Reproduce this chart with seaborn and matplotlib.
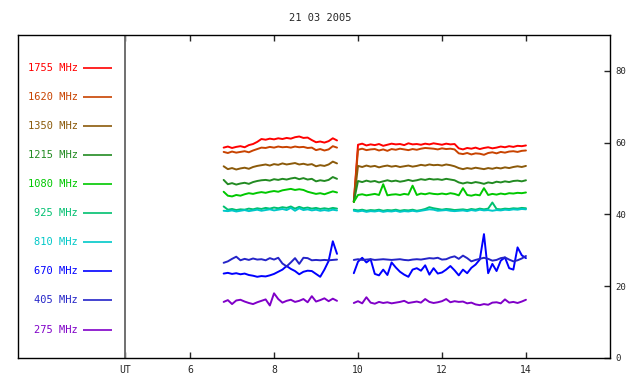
import numpy as np
import pandas as pd
import seaborn as sns
import matplotlib
matplotlib.use("Agg")
import matplotlib.pyplot as plt

# sampling grid (UT hours) of the two observation runs
hours1 = np.round(np.arange(6.8, 9.55, 0.1), 2)
hours2 = np.round(np.arange(9.9, 14.05, 0.1), 2)

bands = ["1755", "1620", "1350", "1215", "1080", "925", "810", "670", "405", "275"]
colors = ["#ff0000", "#c84300", "#8b5a0a", "#228b22", "#00c800",
          "#00c070", "#00c8c8", "#0000ff", "#2424c8", "#8000c8"]

# flux readings, first run
f1755_a = [58.6, 58.9, 58.5, 58.8, 59.0, 58.7, 59.3, 59.6, 60.2, 61.0, 60.8, 61.1, 60.9, 61.2, 61.0, 61.3, 61.1, 61.5, 61.7, 61.3, 61.4, 60.7, 60.1, 60.3, 60.0, 60.4, 61.2, 60.6]
f1620_a = [57.4, 57.1, 57.5, 57.2, 57.4, 57.6, 57.3, 57.8, 58.2, 58.6, 58.5, 58.8, 58.6, 58.9, 58.7, 58.8, 58.6, 58.9, 58.7, 58.8, 58.5, 58.6, 57.9, 58.2, 57.8, 58.1, 59.0, 58.6]
f1350_a = [53.4, 52.6, 52.9, 52.5, 52.8, 53.0, 52.7, 53.2, 53.5, 53.7, 53.9, 53.6, 54.0, 53.8, 54.2, 53.9, 54.1, 54.3, 53.9, 54.1, 53.8, 54.0, 53.4, 53.7, 53.5, 53.9, 54.7, 54.2]
f1215_a = [49.6, 48.4, 48.7, 48.3, 48.6, 48.8, 48.5, 49.0, 49.3, 49.5, 49.6, 49.4, 49.8, 49.6, 49.9, 49.7, 50.0, 50.2, 49.8, 50.1, 49.7, 49.9, 49.2, 49.5, 49.3, 49.6, 50.4, 49.9]
f1080_a = [46.3, 45.2, 45.0, 45.4, 45.2, 45.6, 45.9, 45.7, 46.0, 46.2, 46.0, 46.3, 46.5, 46.3, 46.7, 46.9, 47.1, 46.8, 47.0, 46.8, 46.3, 46.0, 45.7, 45.9, 45.6, 46.0, 46.4, 46.1]
f925_a = [42.2, 41.3, 41.5, 41.2, 41.4, 41.3, 41.6, 41.4, 41.7, 41.5, 41.8, 41.6, 41.9, 41.7, 42.0, 41.8, 42.2, 41.6, 42.1, 41.7, 41.9, 41.6, 41.8, 41.5, 41.7, 41.5, 41.8, 41.6]
f810_a = [41.0, 40.9, 41.1, 40.8, 41.0, 41.2, 40.9, 41.1, 41.3, 41.0, 41.2, 41.4, 41.1, 41.3, 41.5, 41.2, 41.8, 41.0, 41.7, 41.2, 41.4, 41.1, 41.3, 41.0, 41.2, 41.0, 41.3, 41.1]
f670_a = [23.5, 23.7, 23.4, 23.6, 23.3, 23.5, 23.1, 22.9, 22.6, 22.8, 22.7, 23.0, 23.4, 24.0, 24.6, 25.6, 24.8, 24.2, 23.3, 24.0, 24.3, 24.2, 23.4, 22.6, 24.6, 27.0, 32.5, 29.0]
f405_a = [26.5, 26.9, 27.6, 28.2, 27.2, 27.6, 27.3, 27.7, 27.4, 27.5, 27.2, 27.8, 27.4, 27.9, 26.3, 25.5, 26.6, 27.8, 26.2, 27.9, 27.8, 27.2, 27.3, 27.2, 27.3, 27.2, 27.3, 27.4]
f275_a = [15.6, 16.1, 15.0, 16.0, 16.2, 15.7, 15.3, 15.0, 15.5, 15.9, 16.3, 14.6, 18.0, 16.4, 15.4, 15.9, 16.2, 15.6, 15.9, 16.4, 15.5, 17.2, 15.7, 16.1, 16.6, 15.8, 16.5, 15.9]

# flux readings, second run
f1755_b = [43.5, 59.4, 59.7, 59.2, 59.5, 59.3, 59.6, 59.1, 59.4, 59.7, 59.5, 59.6, 59.3, 59.8, 59.5, 59.6, 59.4, 59.7, 59.5, 59.8, 59.6, 59.4, 59.7, 59.5, 59.6, 58.4, 58.1, 58.5, 58.3, 58.6, 58.2, 58.5, 58.7, 58.4, 58.6, 58.9, 58.7, 59.0, 58.8, 59.1, 59.0, 59.2]
f1620_b = [43.5, 58.0, 58.3, 57.9, 58.1, 58.2, 57.8, 58.1, 57.7, 58.2, 58.0, 58.3, 58.1, 57.9, 58.2, 58.0, 58.3, 58.5, 58.4, 58.3, 58.1, 58.4, 58.2, 58.3, 58.1, 57.0, 56.8, 57.1, 56.7, 57.0, 56.9, 56.6, 57.1, 57.3, 57.0, 57.4, 57.2, 57.5, 57.6, 57.4, 57.7, 57.8]
f1350_b = [43.5, 53.5, 53.2, 53.6, 53.3, 53.5, 53.1, 53.4, 53.6, 53.3, 53.5, 53.2, 53.4, 53.6, 53.3, 53.5, 53.8, 53.6, 53.9, 53.7, 53.8, 53.6, 53.9, 53.7, 53.4, 52.9, 52.6, 52.9, 52.7, 53.0, 52.8, 52.6, 52.9, 52.7, 53.0, 52.8, 53.1, 52.9, 53.2, 53.4, 53.2, 53.5]
f1215_b = [43.5, 49.3, 49.0, 49.4, 49.1, 49.3, 48.9, 49.2, 49.5, 49.2, 49.4, 49.1, 49.3, 49.6, 49.3, 49.5, 49.8, 49.6, 49.9, 49.7, 49.8, 49.6, 49.9, 49.7, 49.5, 48.9, 48.6, 48.9, 48.7, 49.0, 48.8, 48.5, 48.9, 48.7, 49.1, 48.9, 49.2, 49.0, 49.3, 49.4, 49.2, 49.5]
f1080_b = [43.5, 45.4, 45.6, 45.3, 45.5, 45.7, 45.4, 48.4, 45.3, 45.5, 45.6, 45.4, 45.7, 45.5, 48.0, 45.4, 45.8, 45.6, 45.9, 45.7, 45.6, 45.8, 45.6, 45.9, 45.7, 45.3, 47.3, 45.4, 45.2, 45.5, 45.3, 47.3, 45.4, 45.7, 45.5, 45.8, 45.6, 45.9, 45.8, 46.0, 45.9, 46.1]
f925_b = [41.3, 41.1, 41.3, 41.0, 41.2, 41.1, 41.3, 41.0, 41.2, 41.1, 41.3, 41.0, 41.2, 41.1, 41.3, 41.0, 41.2, 41.5, 42.0, 41.7, 41.5, 41.3, 41.5, 41.4, 41.2, 41.3, 41.4, 41.2, 41.5, 41.3, 41.6, 41.4, 41.6, 43.3, 41.5, 41.4, 41.6, 41.5, 41.7, 41.6, 41.8, 41.7]
f810_b = [41.0, 40.8, 41.0, 40.7, 40.9, 40.8, 41.0, 40.7, 40.9, 40.8, 41.0, 40.7, 40.9, 40.8, 41.0, 40.8, 41.0, 41.2, 41.4, 41.3, 41.0, 41.1, 41.2, 41.0, 40.9, 41.0, 41.1, 40.9, 41.2, 41.0, 41.3, 41.1, 41.2, 41.0, 41.2, 41.1, 41.3, 41.2, 41.4, 41.3, 41.5, 41.4]
f670_b = [23.6, 26.8, 27.9, 26.6, 27.5, 23.4, 23.0, 24.6, 23.1, 26.6, 25.2, 24.0, 23.2, 22.6, 24.6, 25.0, 24.3, 25.8, 23.2, 25.0, 23.5, 23.8, 24.6, 25.6, 24.4, 23.0, 24.6, 23.6, 25.1, 26.0, 27.4, 34.5, 23.6, 26.2, 24.2, 27.1, 28.0, 25.0, 24.6, 30.8, 28.6, 27.8]
f405_b = [27.3, 27.5, 27.3, 27.4, 27.5, 27.3, 27.4, 27.5, 27.4, 27.3, 27.4, 27.5, 27.3, 27.2, 27.4, 27.5, 27.4, 27.6, 27.8, 27.7, 27.9, 27.4, 27.5, 28.0, 28.3, 27.6, 28.5, 27.8, 26.9, 27.3, 27.6, 27.9, 27.6, 27.1, 27.3, 27.8, 28.0, 27.4, 26.9, 27.2, 27.7, 28.4]
f275_b = [15.3, 15.8, 15.2, 16.9, 15.4, 15.1, 15.6, 15.3, 15.5, 15.2, 15.4, 15.6, 15.9, 15.3, 15.5, 15.7, 15.4, 16.4, 15.6, 15.3, 15.5, 15.8, 16.4, 15.5, 15.8, 15.6, 15.7, 15.2, 15.4, 14.9, 14.7, 15.0, 14.8, 15.4, 15.5, 15.2, 16.3, 15.4, 15.6, 15.3, 15.7, 16.2]

run_a = [f1755_a, f1620_a, f1350_a, f1215_a, f1080_a, f925_a, f810_a, f670_a, f405_a, f275_a]
run_b = [f1755_b, f1620_b, f1350_b, f1215_b, f1080_b, f925_b, f810_b, f670_b, f405_b, f275_b]

frames = []
for band, va, vb in zip(bands, run_a, run_b):
    frames.append(pd.DataFrame({"hour": hours1, "flux": va, "band": band, "run": 1}))
    frames.append(pd.DataFrame({"hour": hours2, "flux": vb, "band": band, "run": 2}))
df = pd.concat(frames, ignore_index=True)
palette = dict(zip(bands, colors))

sns.set_style("white")
plt.rcParams["font.family"] = ["DejaVu Sans Mono"]

fig = plt.figure(figsize=(6.4, 3.84), dpi=100)
ax = fig.add_axes([0.028, 0.068, 0.925, 0.841])

sns.lineplot(data=df, x="hour", y="flux", hue="band", units="run", estimator=None,
             palette=palette, hue_order=bands, lw=1.4, legend=False, sort=False, ax=ax)

ax.set_xlim(1.9, 16.0)
ax.set_ylim(0, 90)
ax.set_xlabel("")
ax.set_ylabel("")

ut = 4.45
ax.axvline(ut, color="#707070", lw=1.4)
ax.set_xticks([ut, 6, 8, 10, 12, 14], labels=["UT", "6", "8", "10", "12", "14"])
ax.set_yticks([0, 20, 40, 60, 80])
ax.tick_params(axis="x", direction="in", top=True, bottom=True, length=4, width=1,
               labelsize=7, pad=5)
ax.tick_params(axis="y", direction="in", left=False, right=True, labelleft=False,
               labelright=True, length=4, width=1, labelsize=6.5, pad=4)
for s in ax.spines.values():
    s.set_color("black")
    s.set_linewidth(1)

# band legend on the left side of the frame
for i, band in enumerate(bands):
    y = 80.8 - 8.1 * i
    ax.text(3.33, y, f"{band} MHz", color=palette[band], fontsize=7.5,
            ha="right", va="center")
    ax.hlines(y, 3.45, 4.14, color=palette[band], lw=1.2)

fig.text(0.5, 0.953, "21 03 2005", ha="center", va="center", fontsize=7.5)

fig.savefig("out.png", dpi=100)
